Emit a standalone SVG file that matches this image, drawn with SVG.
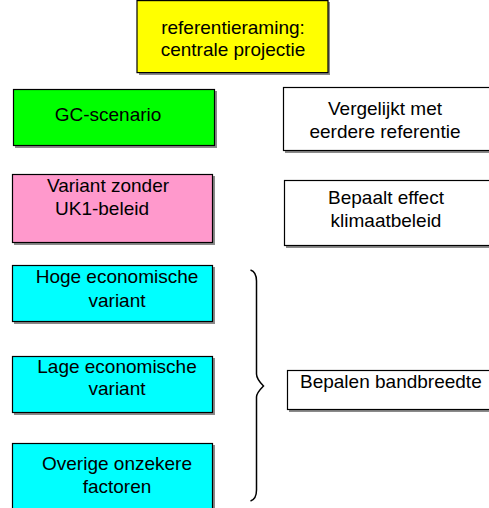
<svg xmlns="http://www.w3.org/2000/svg" width="489" height="508" viewBox="0 0 489 508">
<style>
.box{stroke:#000;stroke-width:1.2}
.sh{fill:#8a8a8a}
text{font-family:"Liberation Sans",Arial,Helvetica,sans-serif;font-size:19px;fill:#000;text-anchor:middle}
.conn{fill:none;stroke:#000;stroke-width:1.5}
</style>
<rect width="489" height="508" fill="#fff"/>
<g id="referentieraming">
<rect class="sh" x="139" y="2" width="191" height="73"/>
<rect class="box" x="137" y="0.6" width="191" height="72" fill="#ffff00"/>
<text x="233" y="34">referentieraming:</text>
<text x="233" y="56">centrale projectie</text>
</g>
<g id="gc-scenario">
<rect class="sh" x="15" y="91" width="202" height="57"/>
<rect class="box" x="13.5" y="89.5" width="201" height="56" fill="#00ff00"/>
<text x="108" y="121">GC-scenario</text>
</g>
<g id="vergelijkt">
<rect class="sh" x="285" y="89" width="210" height="64"/>
<rect class="box" x="283.5" y="87.5" width="210" height="63" fill="#fff"/>
<text x="385" y="115">Vergelijkt met</text>
<text x="385" y="138">eerdere referentie</text>
</g>
<g id="variant-zonder">
<rect class="sh" x="14" y="176" width="201" height="69"/>
<rect class="box" x="12.5" y="174.5" width="200" height="68" fill="#ff99cc"/>
<text x="108" y="192">Variant zonder</text>
<text x="102" y="215">UK1-beleid</text>
</g>
<g id="bepaalt">
<rect class="sh" x="286" y="182" width="210" height="66"/>
<rect class="box" x="284.5" y="180.5" width="210" height="65" fill="#fff"/>
<text x="386" y="204">Bepaalt effect</text>
<text x="386" y="227">klimaatbeleid</text>
</g>
<g id="hoge">
<rect class="sh" x="14" y="267" width="201" height="57"/>
<rect class="box" x="12.5" y="265.5" width="200" height="56" fill="#00ffff"/>
<text x="117" y="283">Hoge economische</text>
<text x="117" y="307">variant</text>
</g>
<g id="lage">
<rect class="sh" x="14" y="358" width="201" height="57"/>
<rect class="box" x="12.5" y="356.5" width="200" height="56" fill="#00ffff"/>
<text x="117" y="373">Lage economische</text>
<text x="117" y="395">variant</text>
</g>
<g id="overige">
<rect class="sh" x="14" y="445" width="201" height="70"/>
<rect class="box" x="12.5" y="443.5" width="200" height="70" fill="#00ffff"/>
<text x="117" y="470">Overige onzekere</text>
<text x="117" y="493">factoren</text>
</g>
<g id="bandbreedte">
<rect class="sh" x="289" y="372" width="210" height="40"/>
<rect class="box" x="287.5" y="370.5" width="210" height="39" fill="#fff"/>
<text x="300" y="388" style="text-anchor:start">Bepalen bandbreedte</text>
</g>
<g id="connectors">
<path class="conn" d="M250.5,270 Q256.5,272 256.5,281 L256.5,374 Q256.5,379 263.5,386 Q256.5,393 256.5,397 L256.5,490 Q256.5,499 250.5,501"/>
</g>
</svg>
